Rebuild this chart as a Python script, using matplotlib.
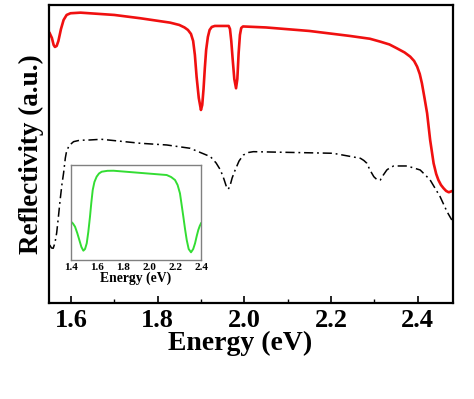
import numpy as np
import matplotlib
matplotlib.use('Agg')
import matplotlib.pyplot as plt
from matplotlib.ticker import MultipleLocator

# main panel, red spectrum
red_e = [1.551, 1.556, 1.560, 1.563, 1.567, 1.571, 1.577, 1.583, 1.590, 1.599,
         1.622, 1.70, 1.76, 1.829, 1.850, 1.862, 1.870, 1.877, 1.882, 1.886,
         1.890, 1.895, 1.900, 1.903, 1.906, 1.909, 1.912, 1.916, 1.920, 1.925,
         1.932, 1.964, 1.967, 1.970, 1.973, 1.977, 1.981, 1.984, 1.987, 1.990,
         1.993, 1.997, 2.05, 2.15, 2.244, 2.290, 2.314, 2.335, 2.352, 2.370,
         2.383, 2.392, 2.399, 2.405, 2.410, 2.416, 2.422, 2.429, 2.437, 2.443,
         2.448, 2.454, 2.460, 2.466, 2.472, 2.480]
red_r = [269.7, 265.0, 258.0, 256.0, 257.0, 262.0, 274.0, 283.0, 288.0, 289.7,
         290.3, 288.0, 284.7, 280.3, 278.0, 275.5, 273.0, 269.0, 262.0, 248.0,
         226.0, 205.0, 193.0, 198.0, 214.0, 235.0, 253.0, 266.0, 273.0, 276.0,
         277.0, 277.0, 274.0, 262.0, 245.0, 224.0, 214.7, 224.0, 250.0, 268.0,
         275.0, 276.5, 275.5, 272.0, 267.0, 264.2, 261.3, 258.5, 254.7, 250.5,
         246.3, 242.0, 236.3, 229.0, 219.7, 205.0, 189.7, 163.0, 139.7, 129.0,
         123.0, 118.0, 114.7, 112.0, 110.7, 112.0]

# main panel, black dash-dot spectrum
blk_e = [1.551, 1.555, 1.559, 1.563, 1.567, 1.571, 1.575, 1.579, 1.583, 1.587,
         1.590, 1.596, 1.606, 1.620, 1.644, 1.67, 1.76, 1.821, 1.875, 1.922,
         1.935, 1.945, 1.953, 1.959, 1.963, 1.967, 1.972, 1.979, 1.988, 1.998,
         2.010, 2.021, 2.205, 2.268, 2.276, 2.283, 2.290, 2.299, 2.307, 2.314,
         2.321, 2.329, 2.337, 2.345, 2.376, 2.406, 2.420, 2.429, 2.440, 2.452,
         2.468, 2.479]
blk_r = [58.0, 55.0, 54.7, 60.0, 70.0, 86.0, 103.0, 118.0, 130.0, 145.0,
         152.0, 157.5, 161.3, 162.7, 163.0, 163.7, 159.7, 158.0, 154.7, 146.3,
         140.0, 133.0, 124.0, 116.0, 113.7, 117.0, 125.0, 133.0, 142.0, 148.0,
         150.5, 151.3, 149.7, 144.7, 142.5, 139.7, 133.0, 126.3, 123.0, 123.0,
         128.0, 133.0, 135.5, 137.0, 137.0, 133.0, 127.0, 123.0, 115.0, 106.3,
         91.3, 83.0]

# inset, green spectrum
grn_e = [1.400, 1.415, 1.431, 1.448, 1.464, 1.480, 1.495, 1.508, 1.521, 1.533,
         1.546, 1.556, 1.567, 1.580, 1.597, 1.615, 1.636, 1.680, 1.726, 2.136,
         2.170, 2.200, 2.220, 2.238, 2.250, 2.264, 2.277, 2.290, 2.305, 2.323,
         2.340, 2.354, 2.367, 2.379, 2.390, 2.400]
grn_r = [38.3, 36.5, 33.3, 27.0, 20.0, 13.0, 9.3, 11.0, 16.7, 28.0,
         43.3, 57.0, 70.0, 78.0, 83.3, 86.5, 88.3, 89.2, 89.3, 85.0,
         83.0, 80.0, 75.0, 66.7, 56.0, 43.3, 31.0, 20.0, 11.0, 7.7,
         11.0, 16.7, 24.0, 30.0, 34.0, 36.7]

main_ticks = [1.6, 1.8, 2.0, 2.2, 2.4]
inset_ticks = [1.4, 1.6, 1.8, 2.0, 2.2, 2.4]

plt.rcParams['font.family'] = ['Liberation Serif', 'DejaVu Serif']
plt.rcParams['font.weight'] = 'bold'

fig = plt.figure(figsize=(4.74, 3.99), dpi=100)
ax = fig.add_axes([0.104, 0.2406, 0.851, 0.747])

ax.plot(red_e, red_r, color='#f01010', lw=1.9)
ax.plot(blk_e, blk_r, color='black', lw=1.1, linestyle=(0, (6, 2.5, 1.2, 2.5)))

ax.set_xlim(1.55, 2.481)
ax.set_ylim(0, 298)
ax.set_xticks(main_ticks)
ax.set_xticklabels(['%.1f' % t for t in main_ticks])
ax.xaxis.set_minor_locator(MultipleLocator(0.1))
ax.set_yticks([])
ax.tick_params(axis='x', which='major', direction='in', length=5, width=1.2,
               labelsize=19, pad=4, top=False)
ax.tick_params(axis='x', which='minor', direction='in', length=3, width=1.0, top=False)
for lab in ax.get_xticklabels():
    lab.set_fontweight('bold')
for sp in ax.spines.values():
    sp.set_linewidth(1.6)
ax.set_xlabel('Energy (eV)', fontsize=20, fontweight='bold', labelpad=0)
ax.xaxis.set_label_coords((240 - 49.3) / 403.4, -0.095)
ax.set_ylabel('Reflectivity (a.u.)', fontsize=19.5, fontweight='bold', labelpad=4)

# inset
ins = fig.add_axes([0.1498, 0.3484, 0.2743, 0.238])
ins.plot(grn_e, grn_r, color='#33dd33', lw=1.4)
ins.set_xlim(1.4, 2.4)
ins.set_ylim(0, 95)
ins.set_xticks(inset_ticks)
ins.set_xticklabels(['%.1f' % t for t in inset_ticks])
ins.set_yticks([])
ins.tick_params(axis='x', length=0, labelsize=8, pad=2)
for lab in ins.get_xticklabels():
    lab.set_fontweight('bold')
for sp in ins.spines.values():
    sp.set_color('#808080')
    sp.set_linewidth(1.0)
ins.set_xlabel('Energy (eV)', fontsize=9.8, fontweight='bold', labelpad=0)

fig.savefig('out.png', dpi=100)
